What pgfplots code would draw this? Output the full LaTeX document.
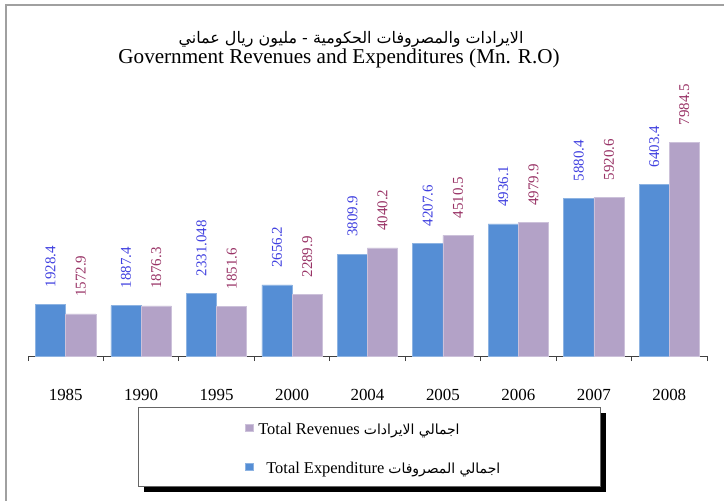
\documentclass[border=0pt]{standalone}
\usepackage{fontspec}
\setmainfont{Liberation Serif}
\newfontfamily\arabicfont[Script=Arabic]{DejaVu Sans}
\usepackage{pgfplots}
\usepackage{pgfplotstable}
\pgfplotsset{compat=1.18}
\usetikzlibrary{shadows}
\TeXXeTstate=1
\definecolor{barblue}{HTML}{558ED5}
\definecolor{barblueedge}{HTML}{8DB3E2}
\definecolor{barpurple}{HTML}{B3A2C7}
\definecolor{barpurpleedge}{HTML}{CCC1DA}
\definecolor{labblue}{HTML}{4040E0}
\definecolor{labpurple}{HTML}{993366}
\definecolor{framegray}{HTML}{A0A0A0}

\pgfplotstableread{
x y lab
0 1928.4 1928.4
1 1887.4 1887.4
2 2331.048 2331.048
3 2656.2 2656.2
4 3809.9 3809.9
5 4207.6 4207.6
6 4936.1 4936.1
7 5880.4 5880.4
8 6403.4 6403.4
}\expdata

\pgfplotstableread{
x y lab
0 1572.9 1572.9
1 1876.3 1876.3
2 1851.6 1851.6
3 2289.9 2289.9
4 4040.2 4040.2
5 4510.5 4510.5
6 4979.9 4979.9
7 5920.6 5920.6
8 7984.5 7984.5
}\revdata

\begin{document}
\begin{tikzpicture}
\path[use as bounding box] (0bp,0bp) rectangle (724bp,501bp);
\fill[white] (0bp,0bp) rectangle (724bp,501bp);
\draw[framegray, line width=2bp] (6bp,0bp) -- (6bp,496bp) -- (724bp,496bp);

% titles
\node[anchor=base] at (351bp,457bp) {\fontsize{16}{18}\selectfont\arabicfont\beginR الايرادات والمصروفات الحكومية  - مليون ريال عماني\endR};
\node[anchor=base] at (339bp,437bp) {\fontsize{21.2}{24}\selectfont Government Revenues and Expenditures (Mn. R.O)};

% legend box
\draw[black!60, fill=white, line width=0.75bp,
  drop shadow={shadow xshift=6bp, shadow yshift=-6bp, fill=black, opacity=1}]
  (138bp,94bp) rectangle (600bp,15bp);

\begin{axis}[
  at={(28bp,145bp)}, anchor=south west,
  scale only axis, width=679bp, height=240.75bp,
  xmin=-0.5, xmax=8.5, ymin=0, ymax=9000,
  clip=false,
  axis x line*=bottom,
  hide y axis,
  x axis line style={black!75, line width=0.9bp},
  xtick={-0.5,0.5,1.5,2.5,3.5,4.5,5.5,6.5,7.5,8.5},
  xticklabels={1985,1990,1995,2000,2004,2005,2006,2007,2008,{}},
  tick align=outside,
  major tick length=5bp,
  xtick style={black!75, line width=0.9bp},
  xticklabel style={font=\fontsize{17}{20}\selectfont, inner sep=0pt, anchor=base, yshift=-39bp, xshift=37.72bp},
  ybar,
  bar width=0.4,
  nodes near coords,
  point meta=explicit symbolic,
  nodes near coords style={rotate=90, anchor=west, inner xsep=17bp, inner ysep=0pt, font=\fontsize{15}{15}\selectfont},
  legend style={at={(0.3196,-0.39)}, anchor=west, draw=none, fill=none, inner sep=0pt,
    nodes={inner sep=0pt, text height=12bp, text depth=4bp, font=\fontsize{16.5}{19}\selectfont},
    row sep=23bp, column sep=5bp, legend cell align=left},
  legend image code/.code={\fill[#1] (0bp,-1.2bp) rectangle (7.5bp,6.3bp);},
  reverse legend,
]
\addplot[fill=barblue, draw=barblueedge, line width=0.6bp, bar shift=-0.2,
  every node near coord/.append style={text=labblue}]
  table[x=x, y=y, meta=lab] {\expdata};
\addlegendentry{\hspace{8bp}Total Expenditure {\fontsize{14}{16}\selectfont\arabicfont\beginR اجمالي المصروفات\endR}}
\addplot[fill=barpurple, draw=barpurpleedge, line width=0.6bp, bar shift=0.2,
  every node near coord/.append style={text=labpurple}]
  table[x=x, y=y, meta=lab] {\revdata};
\addlegendentry{Total Revenues {\fontsize{14}{16}\selectfont\arabicfont\beginR اجمالي الايرادات\endR}}
\end{axis}
\end{tikzpicture}
\end{document}
